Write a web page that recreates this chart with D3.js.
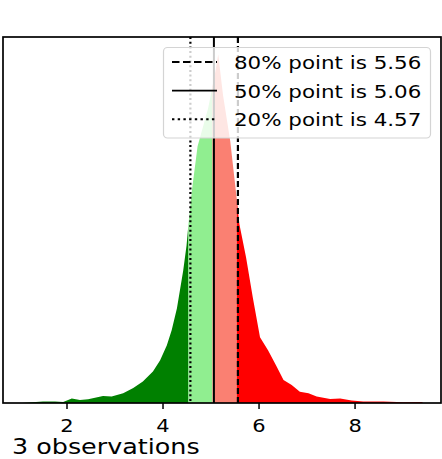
<!DOCTYPE html>
<html>
<head>
<meta charset="utf-8">
<script src="https://cdn.jsdelivr.net/npm/d3@7"></script>
<style>
  html, body { margin: 0; padding: 0; background: #fff; }
  svg { display: block; }
  text { font-family: "DejaVu Sans", sans-serif; fill: #000; }
</style>
</head>
<body>
<svg id="chart" width="442" height="459"></svg>
<script>
// Posterior density on a grid of x values
const gridX = [1.06, 1.5, 1.75, 1.92, 2.1, 2.27, 2.44, 2.75, 2.93, 3.17, 3.38, 3.58, 3.79, 3.94,
  4.08, 4.18, 4.29, 4.42, 4.49, 4.53, 4.6, 4.72, 4.94, 5.03, 5.08, 5.15, 5.25, 5.4, 5.535,
  5.59, 5.73, 5.87, 6.02, 6.19, 6.35, 6.51, 6.68, 6.85, 7.03, 7.2, 7.48, 7.69, 7.93, 8.17,
  8.59, 9.01, 9.39, 9.42];
const density = [0.000, 0.004, 0.004, 0.003, 0.012, 0.008, 0.010, 0.019, 0.018, 0.027, 0.041,
  0.059, 0.086, 0.117, 0.158, 0.199, 0.259, 0.362, 0.431, 0.490, 0.580, 0.703, 0.807, 0.866,
  0.899, 0.954, 0.842, 0.717, 0.559, 0.490, 0.398, 0.289, 0.180, 0.144, 0.104, 0.063, 0.049,
  0.031, 0.027, 0.018, 0.011, 0.012, 0.007, 0.004, 0.004, 0.002, 0.003, 0.000];

// Quantiles of the posterior
const quantileLevels = [80, 50, 20];
const quantileValues = [5.56, 5.06, 4.57];
const quantileDash = ["6,3", null, "2,2.7"];
const legendDash = ["7.5,3.5", null, "2.4,3.3"];

// Fill bands between quantiles, left to right
const bandColors = ["green", "lightgreen", "salmon", "red"];

const xTicks = [2, 4, 6, 8];
const nObs = 3;

const svg = d3.select("#chart");
const plot = { left: 3, right: 441, top: 37, bottom: 403 };

const x = d3.scaleLinear().domain([0.667, 9.79]).range([plot.left, plot.right]);
const y = d3.scaleLinear().domain([0, d3.max(density) * 1.05]).range([plot.bottom, plot.top]);

const pts = gridX.map((v, i) => ({ x: v, d: density[i] }));
const area = d3.area().x(p => x(p.x)).y0(y(0)).y1(p => y(p.d));

// Last grid index at or below a value
const lastIdx = v => {
  let k = 0;
  gridX.forEach((g, i) => { if (g <= v) k = i; });
  return k;
};
const cuts = [-Infinity, quantileValues[2], quantileValues[1], quantileValues[0], Infinity];
bandColors.forEach((c, b) => {
  const i0 = b === 0 ? 0 : lastIdx(cuts[b]);
  const i1 = b === bandColors.length - 1 ? pts.length - 1 : lastIdx(cuts[b + 1]);
  svg.append("path")
    .attr("d", area(pts.slice(i0, i1 + 1)))
    .attr("fill", c);
});

// Quantile lines
quantileValues.forEach((q, i) => {
  svg.append("line")
    .attr("x1", x(q)).attr("x2", x(q))
    .attr("y1", plot.top).attr("y2", plot.bottom)
    .attr("stroke", "#000")
    .attr("stroke-width", i === 1 ? 2 : 2.2)
    .attr("stroke-dasharray", quantileDash[i]);
});

// Frame
svg.append("rect")
  .attr("x", plot.left).attr("y", plot.top)
  .attr("width", plot.right - plot.left).attr("height", plot.bottom - plot.top)
  .attr("fill", "none").attr("stroke", "#000").attr("stroke-width", 1.7);

// Bottom ticks
const tickG = svg.append("g");
xTicks.forEach(t => {
  tickG.append("line")
    .attr("x1", x(t)).attr("x2", x(t))
    .attr("y1", plot.bottom).attr("y2", plot.bottom + 6)
    .attr("stroke", "#000").attr("stroke-width", 1.5);
  tickG.append("g")
    .attr("transform", `translate(${x(t)},${plot.bottom + 28.5}) scale(1.2,1)`)
    .append("text")
    .attr("text-anchor", "middle")
    .attr("font-size", 17.5)
    .text(t);
});

// Legend
const lg = svg.append("g");
lg.append("rect")
  .attr("x", 163.5).attr("y", 47.5).attr("width", 267).attr("height", 90.5)
  .attr("rx", 4).attr("ry", 4)
  .attr("fill", "#fff").attr("fill-opacity", 0.8)
  .attr("stroke", "#d4d4d4").attr("stroke-width", 1.2);
quantileLevels.forEach((lvl, i) => {
  const cy = 62 + i * 28.6;
  lg.append("line")
    .attr("x1", 172).attr("x2", 217)
    .attr("y1", cy).attr("y2", cy)
    .attr("stroke", "#000").attr("stroke-width", 1.9)
    .attr("stroke-dasharray", legendDash[i]);
  lg.append("g")
    .attr("transform", `translate(234,${cy + 7}) scale(1.19,1)`)
    .append("text")
    .attr("font-size", 18)
    .text(`${lvl}% point is ${quantileValues[i].toFixed(2)}`);
});

// Caption
svg.append("g")
  .attr("transform", `translate(12,454) scale(1.21,1)`)
  .append("text")
  .attr("font-size", 21)
  .text(`${nObs} observations`);
</script>
</body>
</html>
